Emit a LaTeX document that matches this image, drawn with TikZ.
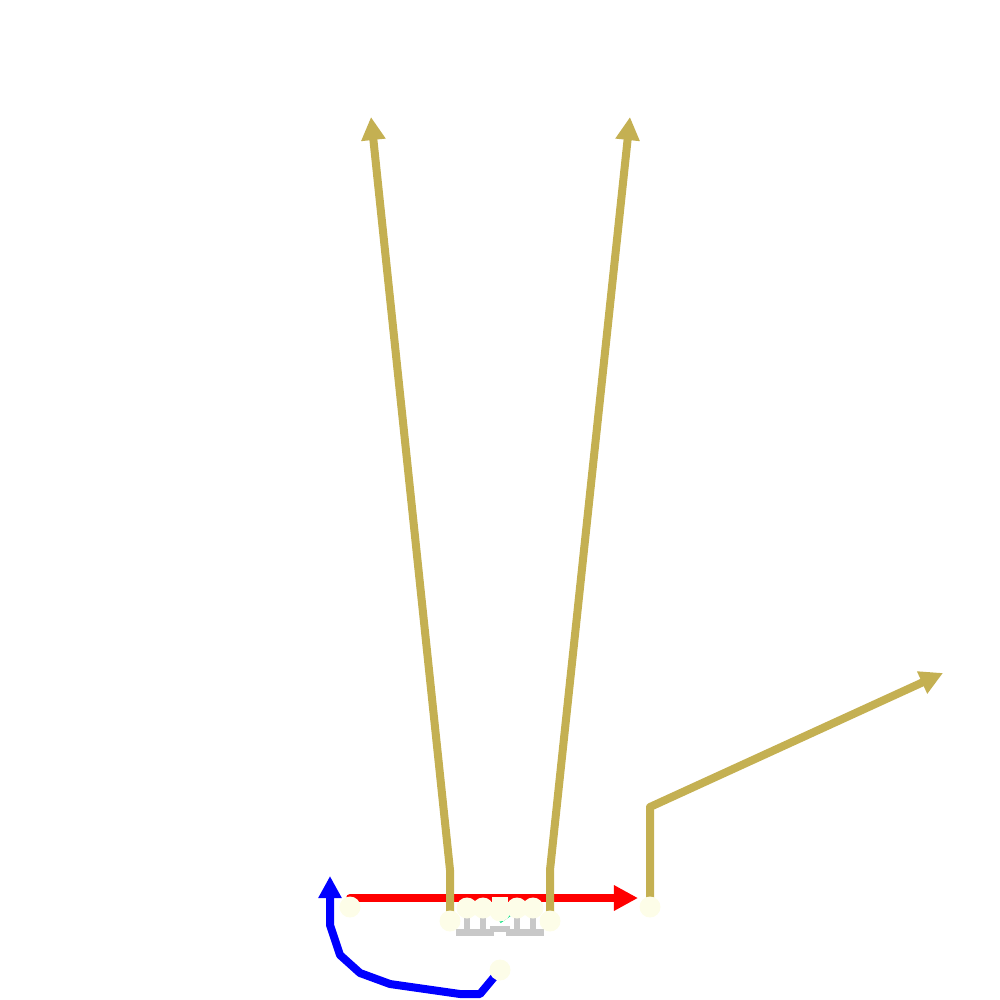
\documentclass[tikz,border=0pt]{standalone}
\usetikzlibrary{arrows.meta}
\definecolor{gold}{RGB}{196,176,82}
\definecolor{ivory}{RGB}{253,253,232}
\definecolor{blockgray}{RGB}{200,200,200}
\definecolor{snapgreen}{RGB}{0,224,128}
\pgfdeclarelayer{bg}
\pgfsetlayers{bg,main}
\tikzset{
  player/.style={circle, fill=ivory, draw=none, inner sep=0pt, minimum size=0.21cm},
  centerbox/.style={rectangle, fill=ivory, draw=none, inner sep=0pt, minimum size=0.16cm},
  route/.style={line width=0.08cm, line join=round, line cap=round},
  goldroute/.style={route, gold, -{Triangle[length=0.23cm,width=0.23cm]}},
  block/.style={line width=0.065cm, blockgray},
}
\begin{document}
\begin{tikzpicture}[x=0.01cm,y=-0.01cm]
\useasboundingbox (0,0) rectangle (1000,1000);
% players
\node[player] (lwr) at (350,907) {};
\node[player] (rwr) at (650,907) {};
\node[player] (lte) at (450,921) {};
\node[player] (rte) at (550,921) {};
\node[player] (lt) at (467,908) {};
\node[player] (lg) at (483,908) {};
\node[player] (c) at (500,911) {};
\node[centerbox] (cbox) at (500,905) {};
\node[player] (rg) at (517,908) {};
\node[player] (rt) at (533,908) {};
\node[player] (qb) at (500,970) {};
% route end points
\coordinate (lteturn) at (450,870);
\coordinate (lteend) at (371,117);
\coordinate (rteturn) at (550,870);
\coordinate (rteend) at (630,117);
\coordinate (rwrturn) at (650,807);
\coordinate (rwrend) at (943,673);
\coordinate (motionend) at (638,898);
\coordinate (qbend) at (330,876);
\begin{pgfonlayer}{bg}
  % blocking marks
  \foreach \n in {lt,lg,rg,rt} {
    \draw[block] ([yshift=-0.06cm]\n.center) -- ++(0,17);
    \draw[block] ([xshift=-0.11cm,yshift=-0.245cm]\n.center) -- ++(22,0);
  }
  \draw[block] (490,929) -- (510,929);
  \draw[line width=0.025cm, snapgreen] (500,922) -- (510,915);
  % motion
  \draw[route, red, -{Triangle[length=0.24cm,width=0.24cm]}] (lwr.center |- motionend) -- (motionend);
  % routes
  \draw[goldroute] (lte.center) -- (lteturn) -- (lteend);
  \draw[goldroute] (rte.center) -- (rteturn) -- (rteend);
  \draw[goldroute] (rwr.center) -- (rwrturn) -- (rwrend);
  \draw[route, blue, -{Triangle[length=0.22cm,width=0.22cm]}] (qb.center) -- (480,994) -- (460,994) -- (390,984) -- (360,973) -- (340,955) -- (330,925) -- (qbend);
\end{pgfonlayer}
\end{tikzpicture}
\end{document}
